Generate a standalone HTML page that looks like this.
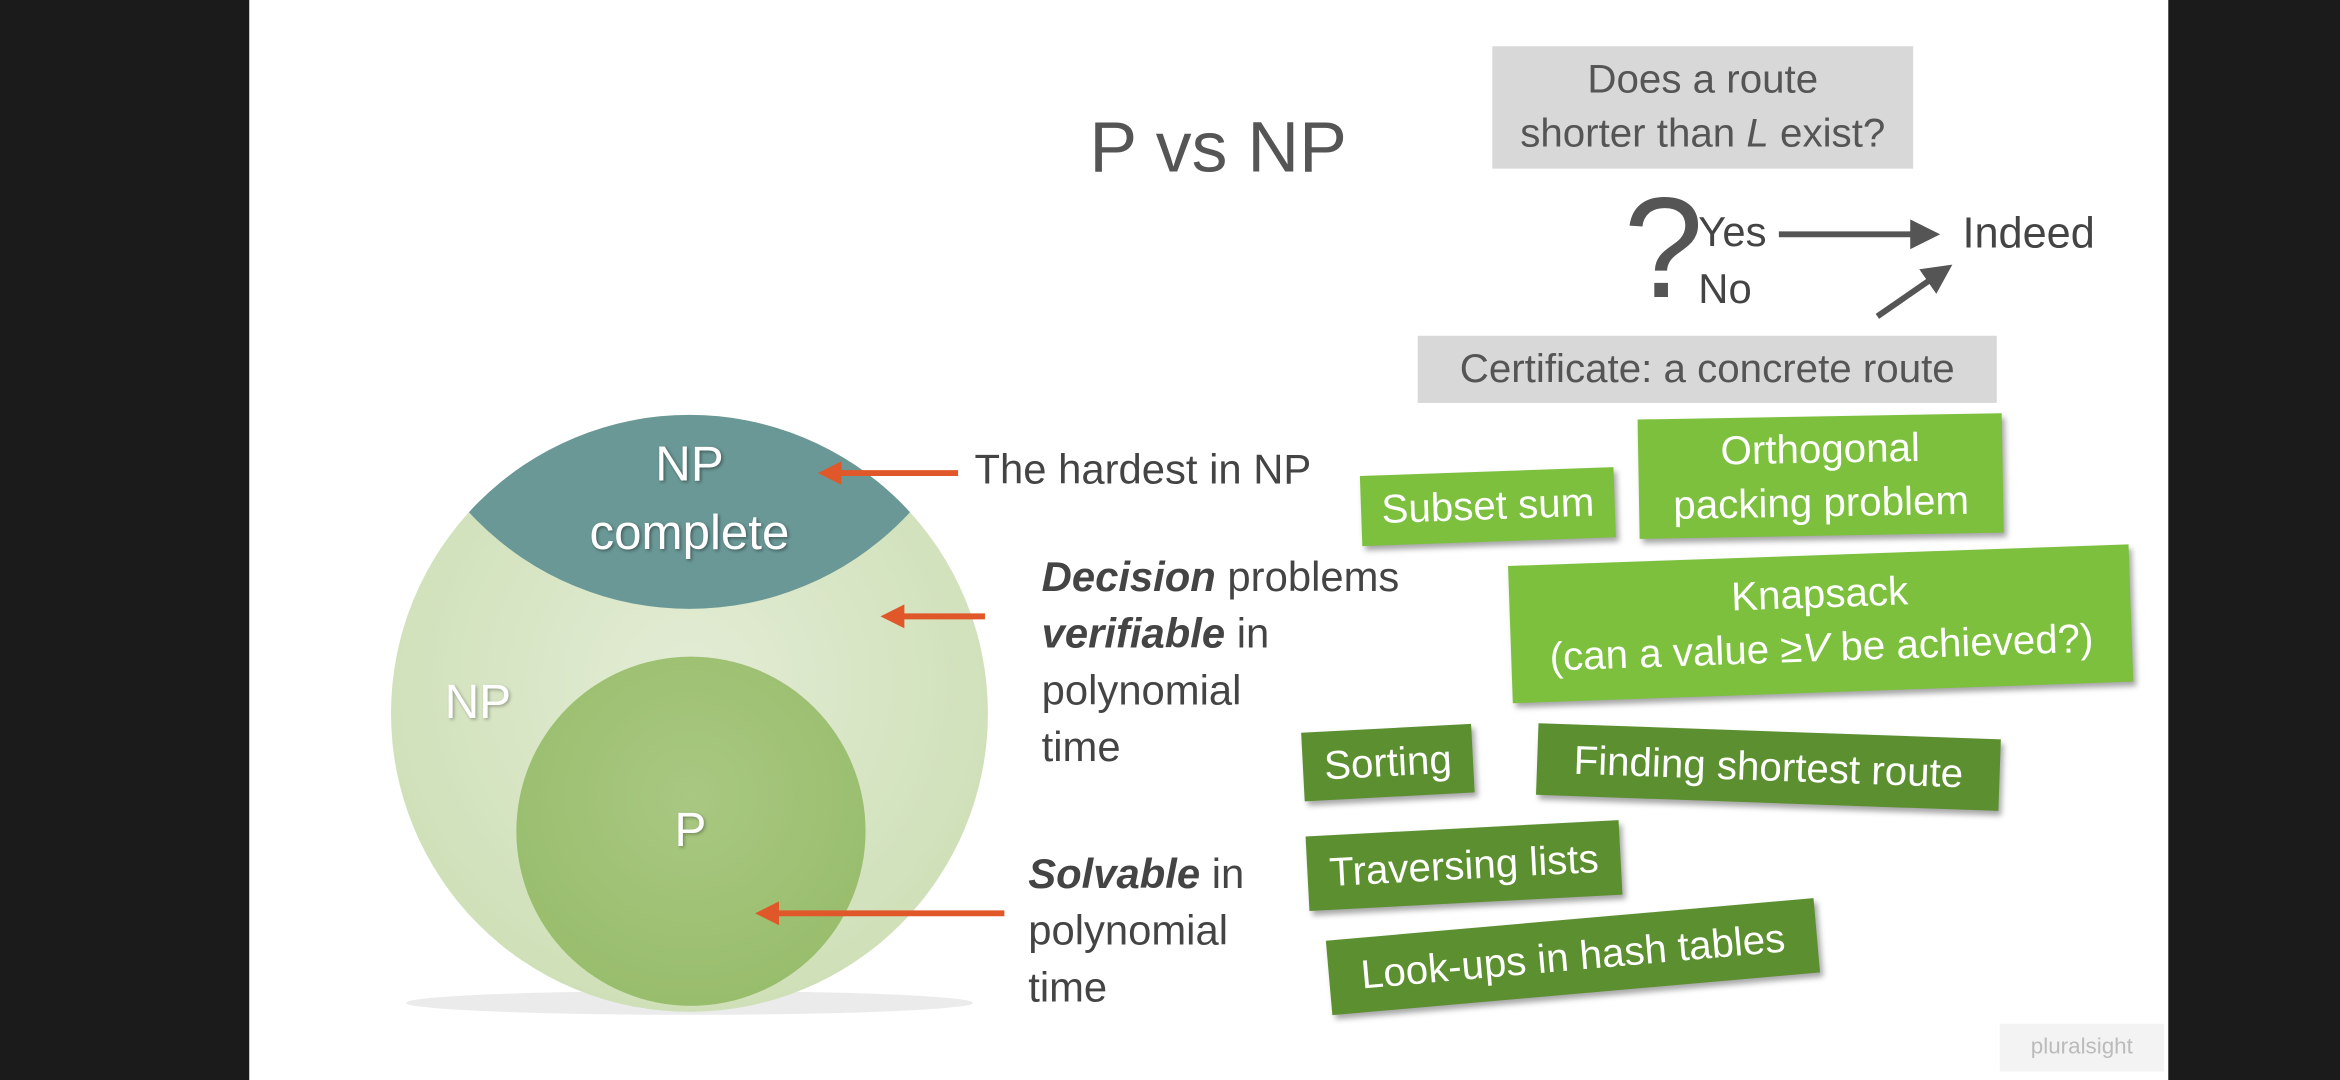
<!DOCTYPE html>
<html><head><meta charset="utf-8">
<style>
html,body{margin:0;padding:0;width:2340px;height:1080px;overflow:hidden;background:#000;}
#s{position:absolute;left:0;top:0;width:1568px;height:724px;transform:scale(1.49235);transform-origin:0 0;font-family:"Liberation Sans",sans-serif;}
.abs{position:absolute;white-space:nowrap;}
.t{color:#444;font-size:28px;}
.tag{position:absolute;color:#fff;font-size:27px;text-align:center;line-height:36px;box-shadow:2px 3px 4px rgba(0,0,0,.35);}
.lg{background:#7cc03e;}
.dg{background:#5b8f2f;}
</style></head><body>
<div id="s">
<div class="abs" style="left:0;top:0;width:167px;height:724px;background:#1b1b1b"></div>
<div class="abs" style="left:167px;top:0;width:1286px;height:724px;background:#fff"></div>
<div class="abs" style="left:1453px;top:0;width:115px;height:724px;background:#1b1b1b"></div>

<div class="abs" style="left:730px;top:72px;font-size:48px;color:#555">P vs NP</div>
<div class="abs" style="left:1000px;top:31px;width:282px;height:82px;background:#d8d8d8;color:#555;font-size:27px;text-align:center;line-height:36px;padding-top:4px;box-sizing:border-box">Does a route<br>shorter than <i>L</i> exist?</div>
<div class="abs" style="left:1088px;top:112px;font-size:96px;color:#555">?</div>
<div class="abs t" style="left:1138px;top:140px">Yes</div>
<div class="abs t" style="left:1138px;top:178px">No</div>
<div class="abs t" style="left:1315px;top:141px;font-size:29px">Indeed</div>
<svg class="abs" style="left:0;top:0" width="1568" height="724">
<defs><marker id="a" markerWidth="5" markerHeight="5" refX="2.5" refY="2.5" orient="auto"><path d="M0,0L5,2.5L0,5z" fill="#555"/></marker>
<marker id="o" markerWidth="4" markerHeight="4" refX="2" refY="2" orient="auto"><path d="M0,0L4,2L0,4z" fill="#e0582a"/></marker>
<radialGradient id="g1" cx="50%" cy="45%" r="55%"><stop offset="0" stop-color="#e3ecd5"/><stop offset="1" stop-color="#cfe0b8"/></radialGradient>
<radialGradient id="g2" cx="50%" cy="40%" r="60%"><stop offset="0" stop-color="#a9c882"/><stop offset="1" stop-color="#98bd6c"/></radialGradient>
<clipPath id="c"><circle cx="462" cy="478" r="200"/></clipPath></defs>
<ellipse cx="462" cy="672" rx="190" ry="8" fill="#ddd" opacity=".6"/>
<circle cx="462" cy="478" r="200" fill="url(#g1)"/>
<circle cx="462" cy="207" r="201" fill="#6a9896" clip-path="url(#c)"/>
<circle cx="463" cy="557" r="117" fill="url(#g2)"/>
<line x1="1192" y1="157" x2="1290" y2="157" stroke="#555" stroke-width="4" marker-end="url(#a)"/>
<line x1="1258" y1="212" x2="1300" y2="183" stroke="#555" stroke-width="4" marker-end="url(#a)"/>
<line x1="642" y1="317" x2="556" y2="317" stroke="#e0582a" stroke-width="4" marker-end="url(#o)"/>
<line x1="660" y1="413" x2="598" y2="413" stroke="#e0582a" stroke-width="4" marker-end="url(#o)"/>
<line x1="673" y1="612" x2="514" y2="612" stroke="#e0582a" stroke-width="4" marker-end="url(#o)"/>
</svg>
<div class="abs" style="left:950px;top:225px;width:388px;height:45px;background:#d8d8d8;color:#555;font-size:27px;text-align:center;line-height:45px">Certificate: a concrete route</div>

<div class="abs" style="left:362px;top:288px;width:200px;text-align:center;color:#fff;font-size:33px;line-height:46px;text-shadow:1px 1px 2px rgba(0,0,0,.4)">NP<br>complete</div>
<div class="abs" style="left:298px;top:452px;color:#fff;font-size:32px;text-shadow:1px 1px 2px rgba(0,0,0,.3)">NP</div>
<div class="abs" style="left:452px;top:538px;color:#fff;font-size:32px;text-shadow:1px 1px 2px rgba(0,0,0,.3)">P</div>

<div class="abs t" style="left:653px;top:299px">The hardest in NP</div>
<div class="abs t" style="left:698px;top:368px;line-height:38px">
<b><i>Decision</i></b> problems<br><b><i>verifiable</i></b> in<br>polynomial<br>time</div>
<div class="abs t" style="left:689px;top:567px;line-height:38px"><b><i>Solvable</i></b> in<br>polynomial<br>time</div>

<div class="tag lg" style="left:912px;top:316px;width:170px;height:47px;line-height:47px;transform:rotate(-2deg)">Subset sum</div>
<div class="tag lg" style="left:1098px;top:279px;width:244px;height:80px;transform:rotate(-1deg);padding-top:4px;box-sizing:border-box">Orthogonal<br>packing problem</div>
<div class="tag lg" style="left:1012px;top:372px;width:416px;height:92px;transform:rotate(-2deg);padding-top:8px;box-sizing:border-box">Knapsack<br>(can a value ≥<i>V</i> be achieved?)</div>
<div class="tag dg" style="left:873px;top:488px;width:114px;height:46px;line-height:46px;transform:rotate(-3deg)">Sorting</div>
<div class="tag dg" style="left:1030px;top:490px;width:310px;height:48px;line-height:48px;transform:rotate(2deg)">Finding shortest route</div>
<div class="tag dg" style="left:876px;top:555px;width:210px;height:50px;line-height:50px;transform:rotate(-3deg)">Traversing lists</div>
<div class="tag dg" style="left:890px;top:616px;width:328px;height:50px;line-height:50px;transform:rotate(-5deg)">Look-ups in hash tables</div>

<div class="abs" style="left:1340px;top:686px;width:110px;height:32px;background:#f3f3f3;color:#bbb;font-size:15px;line-height:32px;text-align:center">pluralsight</div>
</div>
</body></html>
